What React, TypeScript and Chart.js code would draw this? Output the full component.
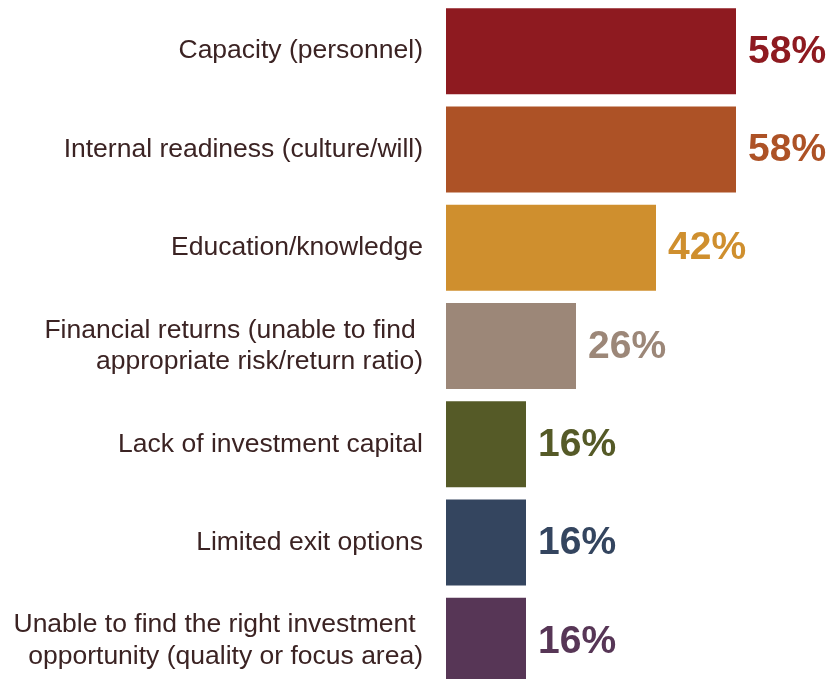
import React, { useEffect, useRef } from "react";
import { Chart, registerables } from "chart.js";

Chart.register(...registerables);

const categories: (string | string[])[] = [
  "Capacity (personnel)",
  "Internal readiness (culture/will)",
  "Education/knowledge",
  ["Financial returns (unable to find ", "appropriate risk/return ratio)"],
  "Lack of investment capital",
  "Limited exit options",
  ["Unable to find the right investment ", "opportunity (quality or focus area)"],
];
const values = [58, 58, 42, 26, 16, 16, 16];
const barColors = ["#8E1A20", "#AD5226", "#CF8F2E", "#9C8778", "#555A27", "#34455F", "#573656"];
const TEXT_COLOR = "#3B2323";

const valueLabels = {
  id: "valueLabels",
  afterDatasetsDraw(chart: any) {
    const { ctx } = chart;
    const meta = chart.getDatasetMeta(0);
    ctx.save();
    ctx.font = "bold 39px 'Liberation Sans', Arial, sans-serif";
    ctx.textAlign = "left";
    ctx.textBaseline = "middle";
    meta.data.forEach((bar: any, i: number) => {
      ctx.fillStyle = barColors[i];
      ctx.fillText(values[i] + "%", bar.x + 12, bar.y + 1);
    });
    ctx.restore();
  },
};

export default function App() {
  const ref = useRef<HTMLCanvasElement>(null);
  useEffect(() => {
    if (!ref.current) return;
    const chart = new Chart(ref.current, {
      type: "bar",
      data: {
        labels: categories,
        datasets: [
          {
            data: values,
            backgroundColor: barColors,
            borderWidth: 0,
            barPercentage: 0.875,
            categoryPercentage: 1,
          },
        ],
      },
      options: {
        indexAxis: "y",
        animation: false,
        responsive: true,
        maintainAspectRatio: false,
        layout: { padding: { top: 2, right: 0, bottom: 0, left: 0 } },
        plugins: { legend: { display: false }, tooltip: { enabled: false } },
        scales: {
          x: {
            min: 0,
            max: 76.6,
            display: false,
            grid: { display: false },
          },
          y: {
            grid: { display: false, drawTicks: false },
            border: { display: false },
            afterFit(scale: any) {
              scale.width = 446;
              scale.paddingTop = 0;
              scale.paddingBottom = 0;
            },
            ticks: {
              padding: 23,
              color: TEXT_COLOR,
              font: { family: "'Liberation Sans', Arial, sans-serif", size: 26.5, lineHeight: 1.19 },
            },
          },
        },
      },
      plugins: [valueLabels],
    });
    return () => chart.destroy();
  }, []);
  return (
    <div style={{ position: "fixed", left: 0, top: 0, width: 829, height: 679, overflow: "hidden", background: "#fff" }}>
      <div style={{ position: "relative", width: 829, height: 690 }}>
        <canvas ref={ref} />
      </div>
    </div>
  );
}
